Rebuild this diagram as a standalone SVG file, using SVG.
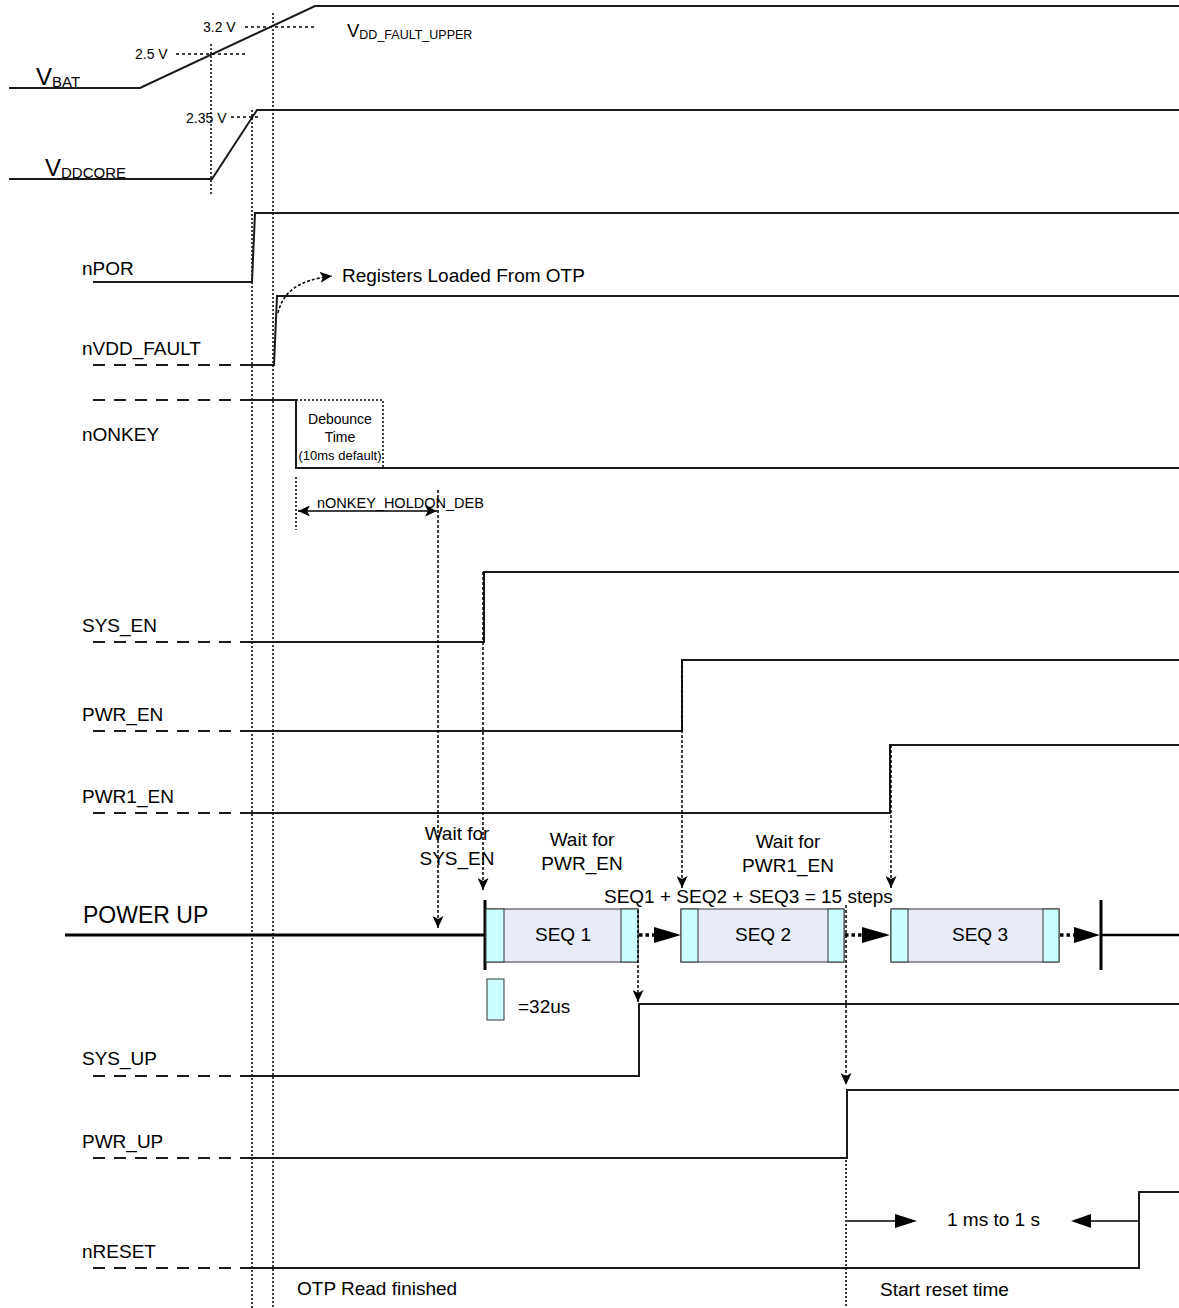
<svg xmlns="http://www.w3.org/2000/svg" width="1179" height="1308" viewBox="0 0 1179 1308">
<defs>
<style>
text{font-family:"Liberation Sans",Arial,sans-serif;fill:#000}
.lbl{font-size:19px}
.sm{font-size:14px}
.sig{fill:none;stroke:#1a1a1a;stroke-width:2}
.dash{fill:none;stroke:#1a1a1a;stroke-width:2;stroke-dasharray:12 9}
.vdot{fill:none;stroke:#000;stroke-width:1.5;stroke-dasharray:2 2}
.hdot{fill:none;stroke:#000;stroke-width:1.5;stroke-dasharray:3 3}
.arrdot{fill:none;stroke:#000;stroke-width:1.5;stroke-dasharray:3 2}
.thick{fill:none;stroke:#000;stroke-width:3}
.cyan{fill:#CCFFFF;stroke:#333;stroke-width:1}
.mid{fill:#E8ECF8;stroke:#333;stroke-width:1}
.bigdot{fill:none;stroke:#000;stroke-width:3.5;stroke-dasharray:3.5 3}
</style>
<marker id="ah" viewBox="0 0 12 11" refX="12" refY="5.5" markerWidth="12" markerHeight="11" markerUnits="userSpaceOnUse" orient="auto-start-reverse">
<path d="M0,0 L12,5.5 L0,11 L3,5.5 z" fill="#000"/>
</marker>
</defs>

<g id="VBAT">
<path class="sig" d="M9,88 H140 L315,6 H1179"/>
<text x="36" y="85" style="font-size:24px">V<tspan style="font-size:15px" dy="2">BAT</tspan></text>
<path class="hdot" d="M176,54 H247"/>
<path class="hdot" d="M245,27 H315"/>
<text x="135" y="59" style="font-size:14px">2.5 V</text>
<text x="203" y="32" style="font-size:14px">3.2 V</text>
<text x="347" y="37" style="font-size:18.5px">V<tspan style="font-size:12.5px" dy="2">DD_FAULT_UPPER</tspan></text>
</g>

<g id="VDDCORE">
<path class="sig" d="M9,179 H212 L257,110 H1179"/>
<path class="hdot" d="M231,117 H260"/>
<text x="186" y="123" style="font-size:14px">2.35 V</text>
<text x="45" y="176" style="font-size:24px">V<tspan style="font-size:15px" dy="2">DDCORE</tspan></text>
</g>

<g id="guides">
<path class="vdot" d="M211,44 V196"/>
<path class="vdot" d="M252,110 V1308"/>
<path class="vdot" d="M273,13 V1308"/>
</g>

<g id="nPOR">
<text class="lbl" x="82" y="275">nPOR</text>
<path class="sig" d="M93,282 H252 L255,213 H1179"/>
</g>

<g id="nVDD_FAULT">
<text class="lbl" x="82" y="355">nVDD_FAULT</text>
<path class="dash" d="M93,365 H240"/>
<path class="sig" d="M240,365 H274 L277,296 H1179"/>
<text class="lbl" x="342" y="282">Registers Loaded From OTP</text>
</g>

<g id="nONKEY">
<text class="lbl" x="82" y="441">nONKEY</text>
<path class="dash" d="M93,400 H240"/>
<path class="sig" d="M240,400 H296 V468 H1179"/>
<path class="vdot" d="M296,400 H383 V468"/>
<text class="sm" x="340" y="424" text-anchor="middle">Debounce</text>
<text class="sm" x="340" y="442" text-anchor="middle">Time</text>
<text x="340" y="460" text-anchor="middle" style="font-size:13px">(10ms default)</text>
<path class="vdot" d="M296,477 V530"/>
<text x="317" y="508" style="font-size:14.5px">nONKEY_HOLDON_DEB</text>
</g>

<g id="SYS_EN">
<text class="lbl" x="82" y="632">SYS_EN</text>
<path class="dash" d="M93,642 H240"/>
<path class="sig" d="M240,642 H484 V572 H1179"/>
</g>

<g id="PWR_EN">
<text class="lbl" x="82" y="721">PWR_EN</text>
<path class="dash" d="M93,731 H240"/>
<path class="sig" d="M240,731 H682 V660 H1179"/>
</g>

<g id="PWR1_EN">
<text class="lbl" x="82" y="803">PWR1_EN</text>
<path class="dash" d="M93,813 H240"/>
<path class="sig" d="M240,813 H890 V745 H1179"/>
</g>

<g id="POWER_UP">
<text x="83" y="923" style="font-size:23px">POWER UP</text>
<path class="thick" d="M65,935 H485"/>
<path class="thick" d="M485,900 V970"/>
<path class="thick" d="M1101,900 V970"/>
<path class="thick" d="M1101,935 H1179" style="stroke-width:2.5"/>
<text class="lbl" x="457" y="840" text-anchor="middle">Wait for</text>
<text class="lbl" x="457" y="865" text-anchor="middle">SYS_EN</text>
<text class="lbl" x="582" y="846" text-anchor="middle">Wait for</text>
<text class="lbl" x="582" y="870" text-anchor="middle">PWR_EN</text>
<text class="lbl" x="788" y="848" text-anchor="middle">Wait for</text>
<text class="lbl" x="788" y="872" text-anchor="middle">PWR1_EN</text>
<text class="lbl" x="604" y="903">SEQ1 + SEQ2 + SEQ3 = 15 steps</text>
</g>

<g id="SEQ1">
<rect class="mid" x="486" y="909" width="152" height="53"/>
<rect class="cyan" x="486" y="909" width="18" height="53"/>
<rect class="cyan" x="621" y="909" width="17" height="53"/>
<text class="lbl" x="563" y="941" text-anchor="middle">SEQ 1</text>
</g>

<g id="SEQ2">
<rect class="mid" x="681" y="909" width="163" height="53"/>
<rect class="cyan" x="681" y="909" width="17" height="53"/>
<rect class="cyan" x="828" y="909" width="16" height="53"/>
<text class="lbl" x="763" y="941" text-anchor="middle">SEQ 2</text>
</g>

<g id="SEQ3">
<rect class="mid" x="891" y="909" width="168" height="53"/>
<rect class="cyan" x="891" y="909" width="17" height="53"/>
<rect class="cyan" x="1043" y="909" width="16" height="53"/>
<text class="lbl" x="980" y="941" text-anchor="middle">SEQ 3</text>
</g>

<g id="legend">
<rect class="cyan" x="487" y="979" width="17" height="41"/>
<text class="lbl" x="518" y="1013">=32us</text>
</g>

<g id="SYS_UP">
<text class="lbl" x="82" y="1065">SYS_UP</text>
<path class="dash" d="M93,1076 H240"/>
<path class="sig" d="M240,1076 H639 V1004 H1179"/>
</g>

<g id="PWR_UP">
<text class="lbl" x="82" y="1148">PWR_UP</text>
<path class="dash" d="M93,1158 H240"/>
<path class="sig" d="M240,1158 H847 V1090 H1179"/>
</g>

<g id="nRESET">
<text class="lbl" x="82" y="1258">nRESET</text>
<path class="dash" d="M93,1268 H241"/>
<path class="sig" d="M241,1268 H1139 V1192 H1179"/>
<text class="lbl" x="947" y="1226">1 ms to 1 s</text>
<text class="lbl" x="297" y="1295">OTP Read finished</text>
<text class="lbl" x="880" y="1296">Start reset time</text>
</g>

<g id="connectors">
<path class="arrdot" d="M483,572 V890" marker-end="url(#ah)"/>
<path class="arrdot" d="M438,490 V928" marker-end="url(#ah)"/>
<path class="arrdot" d="M682,660 V888" marker-end="url(#ah)"/>
<path class="arrdot" d="M891,745 V888" marker-end="url(#ah)"/>
<path class="arrdot" d="M638,910 V1002" marker-end="url(#ah)"/>
<path class="arrdot" d="M846,905 V1085" marker-end="url(#ah)"/>
<path class="vdot" d="M846,1160 V1308"/>
<path class="arrdot" d="M278,313 C283,292 298,280 332,276" marker-end="url(#ah)"/>
<path fill="none" stroke="#000" stroke-width="1.5" d="M298,511 H437" marker-start="url(#ah)" marker-end="url(#ah)"/>
<path class="bigdot" d="M639,935 H654"/>
<polygon points="654,927 681,935 654,943" fill="#000"/>
<path class="bigdot" d="M845,935 H862"/>
<polygon points="862,927 890,935 862,943" fill="#000"/>
<path class="bigdot" d="M1060,935 H1074"/>
<polygon points="1074,927 1100,935 1074,943" fill="#000"/>
<path fill="none" stroke="#000" stroke-width="1.5" d="M847,1221 H897"/>
<polygon points="895,1214 917,1221 895,1228" fill="#000"/>
<path fill="none" stroke="#000" stroke-width="1.5" d="M1089,1221 H1139"/>
<polygon points="1091,1214 1071,1221 1091,1228" fill="#000"/>
</g>
</svg>
